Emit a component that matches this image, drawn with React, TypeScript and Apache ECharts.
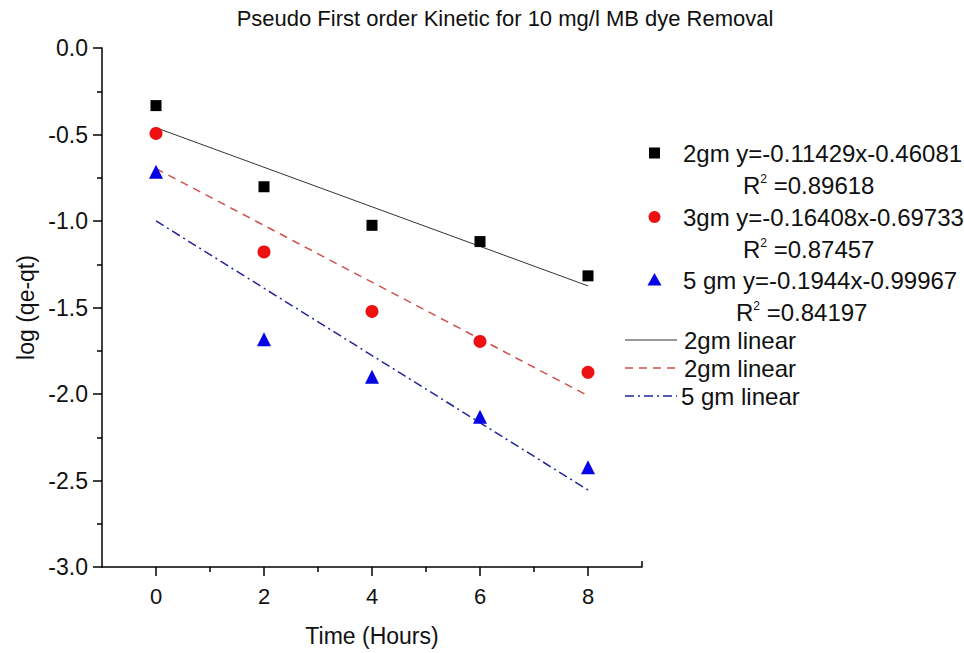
import React, { useEffect, useRef } from "react";
import * as echarts from "echarts";

const timeHours = [0, 2, 4, 6, 8];
const dose2gm = [-0.333, -0.802, -1.025, -1.119, -1.317];
const dose3gm = [-0.494, -1.179, -1.523, -1.696, -1.875];
const dose5gm = [-0.715, -1.683, -1.9, -2.131, -2.423];

const fitX = [0, 8];
const fit2gm = [-0.46081, -1.37513];
const fit3gm = [-0.69733, -2.00997];
const fit5gm = [-0.99967, -2.55487];

const xMajorTicks = [0, 2, 4, 6, 8];
const xMinorTicks = [1, 3, 5, 7];

const pointLegend = [
  { name: "2gm y=-0.11429x-0.46081", r2: "0.89618", symbol: "square" },
  { name: "3gm y=-0.16408x-0.69733", r2: "0.87457", symbol: "circle" },
  { name: "5 gm y=-0.1944x-0.99967", r2: "0.84197", symbol: "triangle" },
];
const lineLegend = ["2gm linear", "2gm linear", "5 gm linear"];

const FONT = "'Liberation Sans', Arial, sans-serif";

export default function App() {
  const ref = useRef<HTMLDivElement>(null);
  useEffect(() => {
    if (!ref.current) return;
    const chart = echarts.init(ref.current, null, { renderer: "svg" });
    const pair = (xs: number[], ys: number[]) => xs.map((x, i) => [x, ys[i]]);

    const gLeft = 102, gTop = 48, gRight = 322, gBottom = 86;
    const gHeight = 653 - gTop - gBottom;
    const graphics: any[] = [
      {
        type: "text",
        x: 505,
        y: 18,
        style: {
          text: "Pseudo First order Kinetic for 10 mg/l MB dye Removal",
          font: `22px ${FONT}`,
          fill: "#111",
          textAlign: "center",
          textVerticalAlign: "middle",
        },
      },
      {
        type: "line",
        shape: { x1: 642, y1: 567, x2: 642, y2: 561 },
        style: { stroke: "#000", lineWidth: 1.5 },
      },
    ];
    const rowY = [153, 185, 217, 249, 280, 312];
    const r2X = [743, 743, 736];
    const markerColors = ["#000000", "#ee1111", "#0505e6"];
    pointLegend.forEach((p, i) => {
      const y = rowY[i * 2];
      const c = markerColors[i];
      if (p.symbol === "square") {
        graphics.push({ type: "rect", shape: { x: 649, y: y - 5.5, width: 11, height: 11 }, style: { fill: c } });
      } else if (p.symbol === "circle") {
        graphics.push({ type: "circle", shape: { cx: 654.5, cy: y, r: 6 }, style: { fill: c } });
      } else {
        graphics.push({
          type: "polygon",
          shape: { points: [[654.5, y - 7], [647.5, y + 5.5], [661.5, y + 5.5]] },
          style: { fill: c },
        });
      }
      graphics.push({
        type: "text",
        x: 683,
        y,
        style: { text: p.name, font: `24px ${FONT}`, fill: "#111", textVerticalAlign: "middle" },
      });
      graphics.push({
        type: "text",
        x: r2X[i],
        y: rowY[i * 2 + 1],
        style: {
          text: "R{s|2} =" + p.r2,
          font: `24px ${FONT}`,
          fill: "#111",
          textVerticalAlign: "middle",
          rich: {
            s: { fontSize: 12, fontFamily: FONT, verticalAlign: "top", padding: [0, 0, 12, 0], fill: "#111" },
          },
        },
      });
    });
    const lineY = [340, 368, 396];
    const lineStyles = [
      { stroke: "#333333", lineDash: null as any },
      { stroke: "#d0504c", lineDash: [8, 6] },
      { stroke: "#23239a", lineDash: [9, 4, 2, 4] },
    ];
    lineLegend.forEach((t, i) => {
      graphics.push({
        type: "line",
        shape: { x1: 625, y1: lineY[i], x2: 677, y2: lineY[i] },
        style: { stroke: lineStyles[i].stroke, lineWidth: i === 0 ? 1 : 1.5, lineDash: lineStyles[i].lineDash },
      });
      graphics.push({
        type: "text",
        x: i === 2 ? 681 : 684,
        y: lineY[i],
        style: { text: t, font: `24px ${FONT}`, fill: "#111", textVerticalAlign: "middle" },
      });
    });

    chart.setOption({
      animation: false,
      backgroundColor: "#ffffff",
      textStyle: { fontFamily: FONT },
      grid: { left: gLeft, top: gTop, right: gRight, bottom: gBottom, containLabel: false },
      xAxis: [
        {
          type: "value",
          min: -1,
          max: 9,
          position: "bottom",
          name: "Time (Hours)",
          nameLocation: "middle",
          nameGap: 57,
          nameTextStyle: { fontSize: 23, color: "#111", fontFamily: FONT },
          axisLine: { show: true, onZero: false, lineStyle: { color: "#000", width: 1.5 } },
          axisTick: { show: true, length: 9, customValues: xMajorTicks, lineStyle: { color: "#000", width: 1.5 } },
          axisLabel: { customValues: xMajorTicks, fontSize: 22, color: "#111", margin: 18, fontFamily: FONT },
          splitLine: { show: false },
        },
        {
          type: "value",
          min: -1,
          max: 9,
          position: "top",
          offset: -gHeight,
          axisLine: { show: false },
          axisTick: {
            show: true,
            inside: true,
            length: 5,
            customValues: xMinorTicks,
            lineStyle: { color: "#000", width: 1.5 },
          },
          axisLabel: { show: false },
          splitLine: { show: false },
        },
      ],
      yAxis: {
        type: "value",
        min: -3,
        max: 0,
        interval: 0.5,
        name: "log (qe-qt)",
        nameLocation: "middle",
        nameGap: 65,
        nameTextStyle: { fontSize: 23, color: "#111", fontFamily: FONT },
        axisLine: { show: true, onZero: false, lineStyle: { color: "#000", width: 1.5 } },
        axisTick: { show: true, length: 9, lineStyle: { color: "#000", width: 1.5 } },
        minorTick: { show: true, splitNumber: 2, length: 5, lineStyle: { color: "#000", width: 1.5 } },
        axisLabel: {
          fontSize: 23,
          color: "#111",
          margin: 14,
          fontFamily: FONT,
          formatter: (v: number) => v.toFixed(1),
        },
        splitLine: { show: false },
      },
      series: [
        {
          type: "line",
          data: pair(fitX, fit2gm),
          symbol: "none",
          lineStyle: { color: "#333333", width: 1 },
          z: 2,
        },
        {
          type: "line",
          data: pair(fitX, fit3gm),
          symbol: "none",
          lineStyle: { color: "#d0504c", width: 1.5, type: [8, 6] },
          z: 2,
        },
        {
          type: "line",
          data: pair(fitX, fit5gm),
          symbol: "none",
          lineStyle: { color: "#23239a", width: 1.5, type: [9, 4, 2, 4] },
          z: 2,
        },
        {
          type: "scatter",
          data: pair(timeHours, dose2gm),
          symbol: "rect",
          symbolSize: 11,
          itemStyle: { color: "#000000", opacity: 1 },
          z: 3,
        },
        {
          type: "scatter",
          data: pair(timeHours, dose3gm),
          symbol: "circle",
          symbolSize: 13,
          itemStyle: { color: "#ee1111", opacity: 1 },
          z: 3,
        },
        {
          type: "scatter",
          data: pair(timeHours, dose5gm),
          symbol: "triangle",
          symbolSize: 14,
          itemStyle: { color: "#0505e6", opacity: 1 },
          z: 3,
        },
      ],
      graphic: graphics,
    });
    return () => chart.dispose();
  }, []);
  return <div ref={ref} style={{ width: 964, height: 653, position: "absolute", left: 0, top: 0 }} />;
}
